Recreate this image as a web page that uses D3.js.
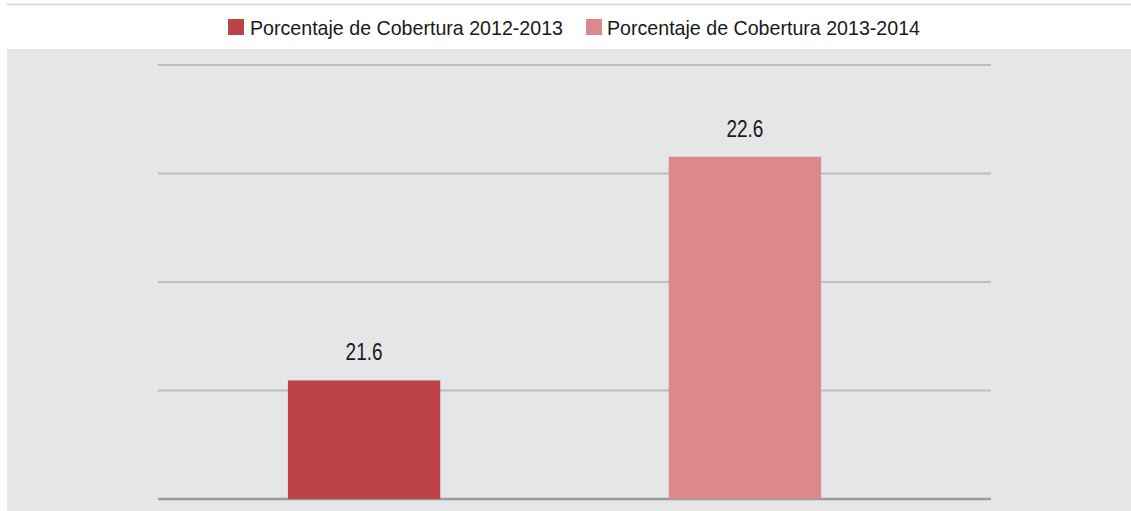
<!DOCTYPE html>
<html>
<head>
<meta charset="utf-8">
<script src="https://cdn.jsdelivr.net/npm/d3@7"></script>
<style>
  html, body { margin: 0; padding: 0; background: #fff; }
  svg { display: block; }
</style>
</head>
<body>
<div class="container"></div>
<script>
const series = ['Porcentaje de Cobertura 2012-2013', 'Porcentaje de Cobertura 2013-2014']
const values = [21.6, 22.6]
const colours = ['#BE4349', '#DC898C']
const yMin = 21.07
const yMax = 23.01

let width = 1131
let height = 511
let font = "'Liberation Sans Narrow', 'Arial Narrow', 'Liberation Sans', Arial, sans-serif"

let svg = d3.select('.container')
    .append('svg')
    .attr('width', width)
    .attr('height', height)

// top rule and grey panel
svg.append('line')
    .attr('x1', 7).attr('x2', width)
    .attr('y1', 4.5).attr('y2', 4.5)
    .attr('stroke', '#d2d2d2')
    .attr('stroke-width', 1.5)

svg.append('rect')
    .attr('x', 7).attr('y', 49)
    .attr('width', width - 7).attr('height', height - 49)
    .attr('fill', '#E5E6E8')

let xScale = d3.scaleBand()
    .domain(series)
    .range([97.5, 1011.5])
    .paddingInner(0.6)
    .paddingOuter(0.5)

let yScale = d3.scaleLinear()
    .domain([yMin, yMax])
    .range([499, 65])

// gridlines, 4 equal steps like the original
let gridVals = d3.range(5).map(i => yMin + i * (yMax - yMin) / 4)
svg.append('g')
    .selectAll('line')
    .data(gridVals)
    .enter()
    .append('line')
    .attr('x1', 158)
    .attr('x2', 991)
    .attr('y1', d => yScale(d))
    .attr('y2', d => yScale(d))
    .attr('stroke', (d, i) => i == 0 ? '#9B9B9B' : '#BDBEC0')
    .attr('stroke-width', (d, i) => i == 0 ? 2.5 : 1.8)

svg.append('g')
    .selectAll('rect')
    .data(values)
    .enter()
    .append('rect')
    .attr('x', (d, i) => xScale(series[i]))
    .attr('y', d => yScale(d))
    .attr('width', xScale.bandwidth())
    .attr('height', d => yScale(yMin) - yScale(d))
    .attr('fill', (d, i) => colours[i])

svg.append('g')
    .selectAll('text')
    .data(values)
    .enter()
    .append('text')
    .attr('x', (d, i) => xScale(series[i]) + xScale.bandwidth() / 2)
    .attr('y', d => yScale(d) - 20)
    .attr('text-anchor', 'middle')
    .attr('font-family', font)
    .attr('font-size', 24)
    .attr('fill', '#1a1a1a')
    .attr('textLength', 37)
    .attr('lengthAdjust', 'spacingAndGlyphs')
    .text(d => d.toFixed(1))

// legend
let legendX = [228, 586]
let legend = svg.append('g')
    .selectAll('g')
    .data(series)
    .enter()
    .append('g')
    .attr('transform', (d, i) => `translate(${legendX[i]},19)`)

legend.append('rect')
    .attr('width', 16)
    .attr('height', 16)
    .attr('fill', (d, i) => colours[i])

legend.append('text')
    .attr('x', (d, i) => i == 0 ? 22 : 21)
    .attr('y', 15.5)
    .attr('font-family', font)
    .attr('font-size', 21)
    .attr('fill', '#1a1a1a')
    .attr('textLength', 313)
    .attr('lengthAdjust', 'spacingAndGlyphs')
    .text(d => d)
</script>
</body>
</html>
